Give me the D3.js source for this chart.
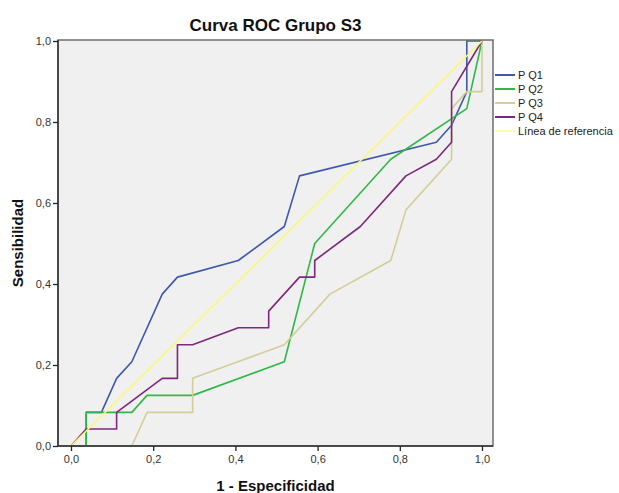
<!DOCTYPE html>
<html>
<head>
<meta charset="utf-8">
<script src="https://cdn.jsdelivr.net/npm/d3@7"></script>
<style>
  body { margin: 0; background: #fff; }
  text { font-family: "Liberation Sans", Arial, sans-serif; }
</style>
</head>
<body>
<script>
// ROC curve, group S3

// series names (legend order)
const seriesNames = ["P Q1", "P Q2", "P Q3", "P Q4", "Línea de referencia"];

// 1 - specificity / sensitivity
const q1X = [0, 0.037, 0.037, 0.074, 0.111, 0.148, 0.222, 0.259, 0.407, 0.519, 0.556, 0.889, 0.926, 0.963, 0.963, 1];
const q1Y = [0, 0, 0.083, 0.083, 0.167, 0.208, 0.375, 0.417, 0.458, 0.542, 0.667, 0.750, 0.792, 0.875, 1, 1];

const q2X = [0, 0.037, 0.037, 0.148, 0.185, 0.296, 0.519, 0.593, 0.778, 0.963, 1];
const q2Y = [0, 0, 0.083, 0.083, 0.125, 0.125, 0.208, 0.500, 0.708, 0.833, 1];

const q3X = [0, 0.148, 0.185, 0.296, 0.296, 0.519, 0.630, 0.778, 0.815, 0.926, 0.926, 0.963, 1, 1];
const q3Y = [0, 0, 0.083, 0.083, 0.167, 0.250, 0.375, 0.458, 0.583, 0.708, 0.833, 0.875, 0.875, 1];

const q4X = [0, 0.037, 0.111, 0.111, 0.222, 0.259, 0.259, 0.296, 0.407, 0.481, 0.481, 0.556, 0.593, 0.593, 0.704, 0.815, 0.889, 0.926, 0.926, 1];
const q4Y = [0, 0.042, 0.042, 0.083, 0.167, 0.167, 0.250, 0.250, 0.292, 0.292, 0.333, 0.417, 0.417, 0.458, 0.542, 0.667, 0.708, 0.750, 0.875, 1];

const refX = [0, 1];
const refY = [0, 1];

const tickValues = [0, 0.2, 0.4, 0.6, 0.8, 1.0];

const colors = ["#3e58ac", "#2eb848", "#d3ce97", "#7c287d", "#fbf873"];

const svgWidth = 619;
const svgHeight = 493;

// plot frame
const frame = { left: 58, right: 493, top: 40, bottom: 446 };

let svg = d3.select("body")
    .append("svg")
    .attr("width", svgWidth)
    .attr("height", svgHeight);

let x = d3.scaleLinear().domain([0, 1]).range([71, 482]);
let y = d3.scaleLinear().domain([0, 1]).range([446, 41]);

// background of plot area
svg.append("rect")
    .attr("x", frame.left)
    .attr("y", frame.top)
    .attr("width", frame.right - frame.left)
    .attr("height", frame.bottom - frame.top)
    .attr("fill", "#f0f0f0");

const fmt = d => d3.format(".1f")(d).replace(".", ",");

// curves
const series = [
    { xs: q1X, ys: q1Y },
    { xs: q2X, ys: q2Y },
    { xs: q3X, ys: q3Y },
    { xs: q4X, ys: q4Y },
    { xs: refX, ys: refY }
];

let line = d3.line()
    .x(d => x(d[0]))
    .y(d => y(d[1]));

series.forEach((s, i) => {
    const pts = s.xs.map((v, j) => [v, s.ys[j]]);
    svg.append("path")
        .datum(pts)
        .attr("d", line)
        .attr("fill", "none")
        .attr("stroke", colors[i])
        .attr("stroke-width", 1.6)
        .attr("stroke-linejoin", "round");
});

// frame border
svg.append("rect")
    .attr("x", frame.left)
    .attr("y", frame.top)
    .attr("width", frame.right - frame.left)
    .attr("height", frame.bottom - frame.top)
    .attr("fill", "none")
    .attr("stroke", "#6e6e6e")
    .attr("stroke-width", 1.5);

// axes
let leftAxis = d3.axisLeft(y).tickValues(tickValues).tickFormat(fmt).tickSize(5).tickPadding(2);
let bottomAxis = d3.axisBottom(x).tickValues(tickValues).tickFormat(fmt).tickSize(5).tickPadding(4);

let yAxis = svg.append("g")
    .attr("transform", `translate(${frame.left}, 0)`)
    .call(leftAxis);

let xAxis = svg.append("g")
    .attr("transform", `translate(0, ${frame.bottom})`)
    .call(bottomAxis);

[xAxis, yAxis].forEach(a => {
    a.select(".domain").attr("stroke", "#333").attr("stroke-width", 1.5);
    a.selectAll(".tick line").attr("stroke", "#222").attr("stroke-width", 1.3);
    a.selectAll(".tick text")
        .attr("fill", "#333")
        .attr("font-size", "11px")
        .attr("font-family", "Liberation Sans, Arial, sans-serif");
});
// the frame draws the axis lines
xAxis.select(".domain").remove();
yAxis.select(".domain").remove();
svg.append("line")
    .attr("x1", frame.left).attr("x2", frame.left)
    .attr("y1", frame.top).attr("y2", frame.bottom)
    .attr("stroke", "#333").attr("stroke-width", 1.5);
svg.append("line")
    .attr("x1", frame.left).attr("x2", frame.right)
    .attr("y1", frame.bottom).attr("y2", frame.bottom)
    .attr("stroke", "#333").attr("stroke-width", 1.5);

// title and axis labels
svg.append("text")
    .attr("x", (frame.left + frame.right) / 2)
    .attr("y", 31)
    .attr("text-anchor", "middle")
    .attr("font-size", "17px")
    .attr("font-weight", "bold")
    .attr("fill", "#111")
    .text("Curva ROC Grupo S3");

svg.append("text")
    .attr("x", (frame.left + frame.right) / 2)
    .attr("y", 491)
    .attr("text-anchor", "middle")
    .attr("font-size", "15px")
    .attr("font-weight", "bold")
    .attr("fill", "#111")
    .text("1 - Especificidad");

svg.append("text")
    .attr("transform", `translate(23, ${(frame.top + frame.bottom) / 2}) rotate(-90)`)
    .attr("text-anchor", "middle")
    .attr("font-size", "15px")
    .attr("font-weight", "bold")
    .attr("fill", "#111")
    .text("Sensibilidad");

// legend
let legend = svg.append("g")
    .attr("transform", "translate(495, 75)");

seriesNames.forEach((name, i) => {
    let row = legend.append("g").attr("transform", `translate(0, ${i * 14})`);
    row.append("line")
        .attr("x1", 0).attr("x2", 20)
        .attr("y1", 0).attr("y2", 0)
        .attr("stroke", colors[i])
        .attr("stroke-width", i === 4 ? 1.2 : 2);
    row.append("text")
        .attr("x", 23)
        .attr("y", 4)
        .attr("font-size", "11px")
        .attr("fill", "#222")
        .text(name);
});
</script>
</body>
</html>
